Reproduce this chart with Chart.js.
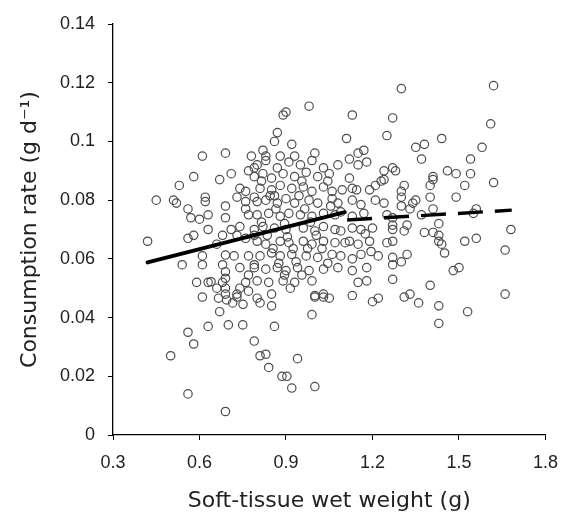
<!DOCTYPE html>
<html>
<head>
<meta charset="utf-8">
<script src="https://cdn.jsdelivr.net/npm/chart.js@4.4.1/dist/chart.umd.min.js"></script>
<style>
  html, body { margin: 0; padding: 0; background: #fff; }
  #chart { display: block; }
</style>
</head>
<body>
<canvas id="chart" width="570" height="522"></canvas>
<script>
var xTicks = [0.3, 0.6, 0.9, 1.2, 1.5, 1.8];
var yTicks = [0, 0.02, 0.04, 0.06, 0.08, 0.1, 0.12, 0.14];

// [soft-tissue wet weight (g), consumption rate (g d-1)]
var observations = [
  // upper, sparse
  [0.98,0.112],[0.90,0.110],[0.89,0.109],[1.13,0.109],[1.27,0.108],[1.30,0.118],[1.62,0.119],[1.61,0.106],
  [1.11,0.101],[1.25,0.102],[0.87,0.103],[0.86,0.100],[0.92,0.099],[0.82,0.097],[1.00,0.096],[1.15,0.096],
  [1.17,0.097],[1.44,0.101],[1.38,0.099],[1.35,0.098],[1.58,0.098],[1.54,0.094],[1.37,0.094],[0.61,0.095],
  [0.69,0.096],[0.78,0.095],[0.83,0.095],[0.88,0.095],[0.93,0.095],
  // right side
  [1.28,0.090],[1.46,0.090],[1.49,0.089],[1.54,0.089],[1.41,0.088],[1.41,0.087],[1.62,0.086],[1.31,0.085],
  [1.40,0.085],[1.52,0.085],[1.30,0.083],[1.30,0.081],[1.40,0.081],[1.49,0.081],[1.35,0.080],[1.34,0.079],
  [1.30,0.078],[1.33,0.077],[1.41,0.077],[1.56,0.077],[1.55,0.0755],[1.37,0.075],[1.27,0.074],[1.43,0.072],
  [1.27,0.0715],[1.32,0.0715],[1.31,0.0695],[1.68,0.070],[1.38,0.069],[1.41,0.069],[1.43,0.068],[1.43,0.066],
  [1.44,0.065],[1.52,0.066],[1.56,0.067],[1.27,0.066],[1.45,0.062],[1.66,0.063],[1.32,0.0615],[1.30,0.059],
  [1.27,0.058],[1.48,0.056],[1.50,0.057],[1.27,0.053],[1.40,0.051],[1.31,0.047],[1.33,0.048],[1.66,0.048],
  [1.36,0.045],[1.43,0.044],[1.53,0.042],[1.43,0.038],
  // lower middle
  [0.81,0.045],[0.85,0.044],[0.99,0.041],[1.00,0.047],[1.03,0.047],[1.05,0.0466],[1.20,0.0454],[1.22,0.0466],
  [0.86,0.037],[0.79,0.032],[0.81,0.027],[0.83,0.0275],[0.94,0.026],[0.84,0.023],[0.886,0.020],[0.903,0.020],
  [0.92,0.016],[1.00,0.0165],
  // lower left
  [0.61,0.047],[0.666,0.0466],[0.694,0.046],[0.715,0.045],[0.751,0.0445],[0.73,0.047],[0.67,0.042],[0.63,0.037],
  [0.70,0.0375],[0.75,0.0375],[0.56,0.035],[0.58,0.031],[0.50,0.027],[0.56,0.014],[0.69,0.008],[0.80,0.0466],
  // left side
  [0.58,0.088],[0.71,0.089],[0.67,0.087],[0.53,0.085],[0.77,0.090],[0.79,0.091],[0.45,0.080],[0.51,0.080],
  [0.52,0.079],[0.62,0.081],[0.62,0.0795],[0.56,0.077],[0.57,0.074],[0.60,0.0735],[0.63,0.075],[0.69,0.078],
  [0.69,0.074],[0.73,0.081],[0.76,0.083],[0.76,0.0795],[0.63,0.070],[0.74,0.071],[0.71,0.070],[0.42,0.066],
  [0.56,0.067],[0.58,0.068],[0.68,0.068],[0.66,0.065],[0.61,0.061],[0.61,0.058],[0.54,0.058],[0.68,0.058],
  [0.59,0.052],[0.63,0.052],[0.64,0.0522],[0.69,0.0613],[0.69,0.0556],[0.69,0.0534],[0.69,0.050],[0.74,0.057],
  [0.74,0.050],[0.77,0.0545],[0.77,0.061],[0.79,0.081],[0.74,0.084],[0.76,0.077],[0.77,0.075],[0.73,0.068],
  [0.76,0.067],[0.79,0.068],[0.72,0.061],[0.79,0.058],[0.76,0.052],[0.73,0.048],[0.77,0.049],[0.68,0.052],
  [0.66,0.050],[0.69,0.048],
  // dense core
  [0.80,0.092],[0.83,0.0935],[0.87,0.091],[0.91,0.093],[0.95,0.092],[0.99,0.0935],[1.03,0.091],[1.08,0.092],
  [1.12,0.094],[1.15,0.092],[1.18,0.093],[1.24,0.090],[1.24,0.087],[1.27,0.091],
  [0.79,0.088],[0.82,0.089],[0.85,0.0875],[0.89,0.089],[0.93,0.088],[0.97,0.0895],[1.01,0.088],[1.05,0.089],
  [1.12,0.0875],[1.23,0.0865],
  [0.81,0.084],[0.85,0.0835],[0.88,0.085],[0.92,0.084],[0.96,0.0845],[0.99,0.083],[1.03,0.0845],[1.06,0.083],
  [1.13,0.084],[1.19,0.0835],[1.21,0.085],
  [0.80,0.0795],[0.83,0.080],[0.87,0.079],[0.90,0.0805],[0.93,0.079],[0.98,0.080],[1.01,0.079],[1.06,0.0805],
  [1.08,0.079],[1.13,0.080],[1.16,0.0785],[1.21,0.080],[1.24,0.079],
  [0.80,0.075],[0.84,0.0755],[0.88,0.0745],[0.91,0.0755],[0.95,0.075],[0.99,0.0745],[1.03,0.0755],[1.07,0.075],
  [1.09,0.076],[1.13,0.0745],[1.17,0.0755],[1.25,0.075],
  [0.79,0.070],[0.82,0.071],[0.86,0.0705],[0.90,0.070],[0.96,0.0705],[1.00,0.0695],[1.03,0.071],[1.07,0.070],
  [1.09,0.0695],[1.13,0.0705],[1.16,0.070],[1.20,0.0705],[1.27,0.070],
  [0.80,0.066],[0.83,0.065],[0.88,0.066],[0.91,0.0655],[0.96,0.066],[0.99,0.065],[1.03,0.066],[1.07,0.0655],
  [1.12,0.066],[1.15,0.065],[1.19,0.066],[1.25,0.0655],
  [0.81,0.061],[0.85,0.062],[0.88,0.061],[0.92,0.0615],[0.97,0.061],[1.01,0.0605],[1.06,0.0615],[1.09,0.061],
  [1.13,0.060],[1.16,0.0615],[1.22,0.061],[1.27,0.0605],
  [0.79,0.057],[0.83,0.0565],[0.87,0.057],[0.90,0.056],[0.94,0.057],[0.98,0.056],[1.03,0.0565],[1.08,0.057],
  [1.13,0.056],[1.18,0.057],
  [0.80,0.0525],[0.84,0.052],[0.89,0.0525],[0.93,0.052],[0.99,0.0525],[1.15,0.052],[1.18,0.0525],
  [0.85,0.048],[1.00,0.0475],[1.03,0.048],[1.13,0.0475],
  [0.815,0.0865],[0.845,0.0815],[0.865,0.077],[0.895,0.072],[0.905,0.0675],[0.925,0.0635],[0.935,0.059],[0.955,0.0545],
  [0.875,0.0585],[0.855,0.0635],[0.835,0.068],[0.815,0.0725],[0.945,0.0815],[0.965,0.077],[0.985,0.0725],[1.005,0.068],
  [1.025,0.0635],[1.045,0.0585],[1.055,0.078],[1.045,0.0865],[0.895,0.0545],[0.915,0.050],[0.955,0.0865],[0.86,0.0815],
  [0.975,0.0635],[1.095,0.0835],[1.105,0.0655],[1.145,0.0835],[1.175,0.0685],[1.195,0.0625]
];

// fitted lines
var solidFitX = [0.42, 1.104];
var solidFitY = [0.0588, 0.0759];
var dashFitX = [1.112, 1.683];
var dashFitY = [0.0732, 0.0766];

var FONT = "'Liberation Sans', Arial, sans-serif";
var TITLE_FONT = "'DejaVu Sans', sans-serif";

function toXY(xs, ys) {
  return xs.map(function (x, i) { return { x: x, y: ys[i] }; });
}

var ctx = document.getElementById('chart');
new Chart(ctx, {
  type: 'scatter',
  data: {
    datasets: [
      {
        data: toXY(solidFitX, solidFitY),
        showLine: true,
        borderColor: '#000',
        borderWidth: 4,
        borderCapStyle: 'round',
        pointRadius: 0,
        order: 0
      },
      {
        data: toXY(dashFitX, dashFitY),
        showLine: true,
        borderColor: '#000',
        borderWidth: 3.5,
        borderDash: [25, 12],
        pointRadius: 0,
        order: 1
      },
      {
        data: observations.map(function (p) { return { x: p[0], y: p[1] }; }),
        pointStyle: 'circle',
        pointRadius: 4.2,
        pointBorderWidth: 1.2,
        pointBorderColor: '#4d4d4d',
        pointBackgroundColor: 'rgba(0,0,0,0)',
        order: 2
      }
    ]
  },
  options: {
    responsive: false,
    animation: false,
    layout: { padding: { top: 24, right: 19, left: 0, bottom: 0 } },
    plugins: { legend: { display: false }, tooltip: { enabled: false } },
    scales: {
      x: {
        type: 'linear',
        min: 0.3,
        max: 1.8,
        afterBuildTicks: function (s) { s.ticks = xTicks.map(function (v) { return { value: v }; }); },
        afterFit: function (s) { s.height = 87; },
        grid: { drawOnChartArea: false, drawTicks: true, tickLength: 5, color: '#000' },
        border: { display: true, color: '#000', width: 1.3 },
        ticks: {
          color: '#222',
          padding: 12,
          font: { family: FONT, size: 18 },
          callback: function (v) { return Number(v).toFixed(1); }
        },
        title: {
          display: true,
          text: 'Soft-tissue wet weight (g)',
          color: '#222',
          font: { family: TITLE_FONT, size: 22 },
          padding: { top: 0, bottom: 8 }
        }
      },
      y: {
        min: 0,
        max: 0.14,
        afterBuildTicks: function (s) { s.ticks = yTicks.map(function (v) { return { value: v }; }); },
        afterFit: function (s) { s.width = 113; },
        grid: { drawOnChartArea: false, drawTicks: true, tickLength: 5, color: '#000' },
        border: { display: true, color: '#000', width: 1.3 },
        ticks: {
          color: '#222',
          padding: 13,
          font: { family: FONT, size: 18 },
          callback: function (v) { return String(Number(Number(v).toFixed(2))); }
        },
        title: {
          display: true,
          text: 'Consumption rate (g d\u207B\u00B9)',
          color: '#222',
          font: { family: TITLE_FONT, size: 22 },
          padding: { top: 17, bottom: 0 }
        }
      }
    }
  }
});
</script>
</body>
</html>
